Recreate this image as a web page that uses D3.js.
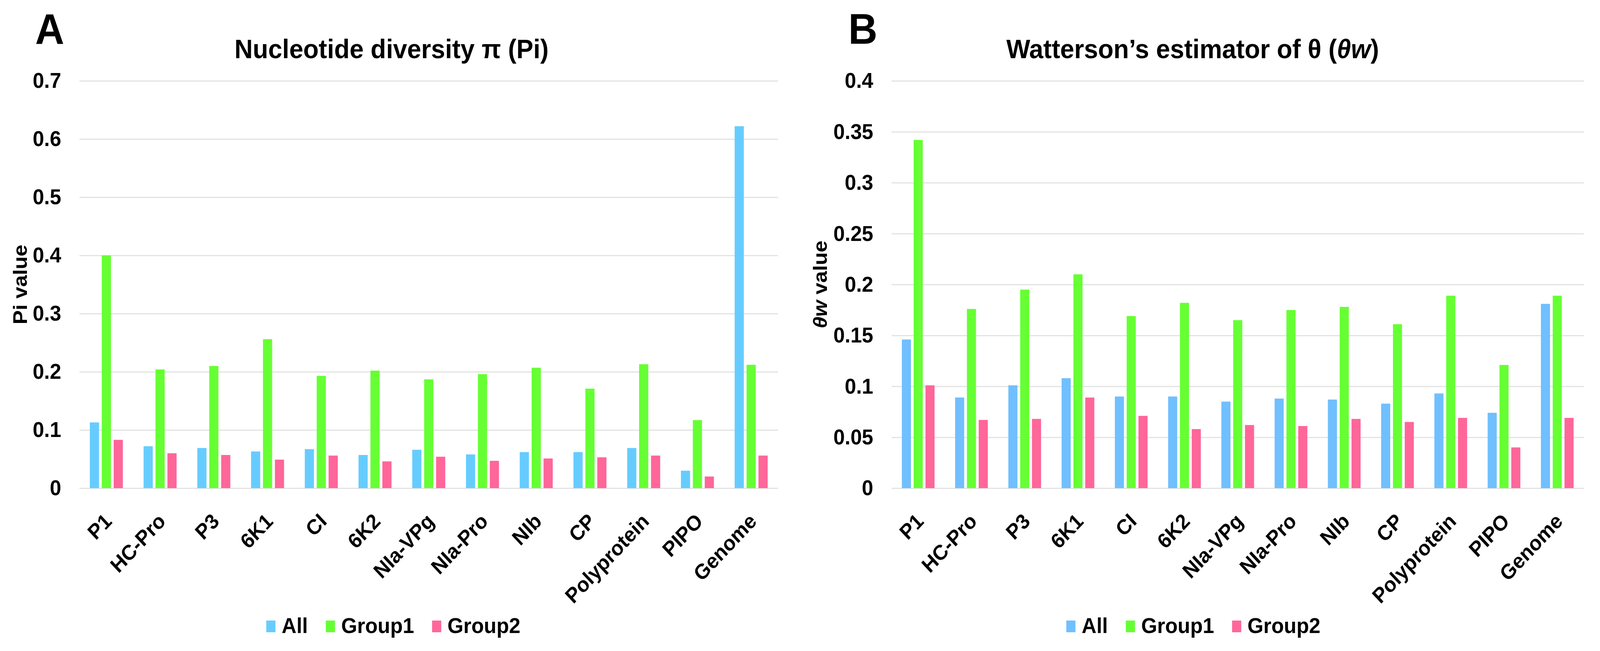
<!DOCTYPE html>
<html>
<head>
<meta charset="utf-8">
<script src="https://cdn.jsdelivr.net/npm/d3@7"></script>
<style>
  html, body { margin: 0; padding: 0; background: #ffffff; overflow: hidden; width: 100%; height: 100%; }
  svg { display: block; font-family: "Liberation Sans", Arial, Helvetica, sans-serif; }
</style>
</head>
<body>
<svg id="chart" viewBox="0 0 4368 1667" preserveAspectRatio="none" style="width:100vw;height:100vh"></svg>
<script>
// ---------------- data ----------------
const categories = ["P1","HC-Pro","P3","6K1","CI","6K2","NIa-VPg","NIa-Pro","NIb","CP","Polyprotein","PIPO","Genome"];
const seriesNames = ["All","Group1","Group2"];

const piAll    = [0.113,0.072,0.069,0.063,0.067,0.057,0.066,0.058,0.062,0.062,0.069,0.030,0.622];
const piGroup1 = [0.400,0.204,0.210,0.256,0.193,0.202,0.187,0.196,0.207,0.171,0.213,0.117,0.212];
const piGroup2 = [0.083,0.060,0.057,0.049,0.056,0.046,0.054,0.047,0.051,0.053,0.056,0.020,0.056];

const twAll    = [0.146,0.089,0.101,0.108,0.090,0.090,0.085,0.088,0.087,0.083,0.093,0.074,0.181];
const twGroup1 = [0.342,0.176,0.195,0.210,0.169,0.182,0.165,0.175,0.178,0.161,0.189,0.121,0.189];
const twGroup2 = [0.101,0.067,0.068,0.089,0.071,0.058,0.062,0.061,0.068,0.065,0.069,0.040,0.069];

const piTicks = [0,0.1,0.2,0.3,0.4,0.5,0.6,0.7];
const piTickLabels = ["0","0.1","0.2","0.3","0.4","0.5","0.6","0.7"];
const twTicks = [0,0.05,0.1,0.15,0.2,0.25,0.3,0.35,0.4];
const twTickLabels = ["0","0.05","0.1","0.15","0.2","0.25","0.3","0.35","0.4"];

const colorsA = ["#66CCFF","#66FF33","#FF6699"];
const colorsB = ["#70BFFF","#66FF33","#FF6699"];

// ---------------- drawing ----------------
const svg = d3.select("#chart");

function drawPanel(cfg) {
  const g = svg.append("g");
  const x0 = d3.scaleBand().domain(categories).range([cfg.left, cfg.right])
               .paddingInner(0.386).paddingOuter(0.193);
  const x1 = d3.scaleBand().domain(seriesNames).range([0, x0.bandwidth()])
               .paddingInner(0.23).paddingOuter(0);
  const y = d3.scaleLinear().domain([0, cfg.max]).range([cfg.bottom, cfg.top]);
  const plotW = cfg.right - cfg.left;

  // y axis with gridlines
  const axis = d3.axisLeft(y).tickValues(cfg.ticks)
      .tickFormat((d, i) => cfg.tickLabels[i])
      .tickSize(-plotW).tickPadding(50);
  const ag = g.append("g").attr("transform", `translate(${cfg.left},0)`).call(axis);
  ag.select(".domain").remove();
  ag.selectAll(".tick line").attr("stroke", "#e3e3e3").attr("stroke-width", 3);
  ag.selectAll(".tick text").attr("fill", "#000").attr("font-size", 56)
    .attr("font-weight", "bold").attr("font-family", "Liberation Sans, Arial, sans-serif");

  // bars
  const data = categories.map((c, i) => ({ cat: c, vals: cfg.series.map((s, k) => ({ name: seriesNames[k], v: s[i], k })) }));
  const groups = g.append("g").selectAll("g").data(data).join("g")
      .attr("transform", d => `translate(${x0(d.cat)},0)`);
  groups.selectAll("rect").data(d => d.vals).join("rect")
      .attr("x", d => x1(d.name))
      .attr("width", x1.bandwidth())
      .attr("y", d => y(d.v))
      .attr("height", d => y(0) - y(d.v))
      .attr("fill", d => cfg.colors[d.k]);

  // category labels
  g.append("g").selectAll("text").data(categories).join("text")
      .attr("transform", d => `translate(${x0(d) + x0.bandwidth() / 2 + 18},${cfg.bottom + 88}) rotate(-45)`)
      .attr("text-anchor", "end")
      .attr("font-size", 54).attr("font-weight", "bold").attr("fill", "#000")
      .text(d => d);

  // title
  const t = g.append("text").attr("x", cfg.titleX).attr("y", 149)
      .attr("text-anchor", "middle").attr("font-size", 69).attr("font-weight", "bold");
  cfg.title.forEach(p => t.append("tspan").attr("font-style", p.italic ? "italic" : "normal").text(p.t));

  // panel letter
  g.append("text").attr("x", cfg.letterX).attr("y", 112)
      .attr("font-size", 110).attr("font-weight", "bold").text(cfg.letter);

  // y axis label
  const yl = g.append("text")
      .attr("transform", `translate(${cfg.ylabX},${(cfg.top + cfg.bottom) / 2}) rotate(-90)`)
      .attr("text-anchor", "middle").attr("font-size", 54).attr("font-weight", "bold");
  cfg.ylab.forEach(p => yl.append("tspan").attr("font-style", p.italic ? "italic" : "normal").text(p.t));

  // legend
  const lg = g.append("g");
  let lx = cfg.legendX;
  seriesNames.forEach((n, k) => {
    lg.append("rect").attr("x", lx).attr("y", 1589).attr("width", 25).attr("height", 30)
      .attr("fill", cfg.colors[k]);
    const tx = lg.append("text").attr("x", lx + 42).attr("y", 1621)
      .attr("font-size", 56).attr("font-weight", "bold").text(n);
    lx = lx + 42 + tx.node().getComputedTextLength() + 49;
  });
}

drawPanel({
  left: 217, right: 2124, top: 207, bottom: 1250, max: 0.7,
  ticks: piTicks, tickLabels: piTickLabels,
  series: [piAll, piGroup1, piGroup2], colors: colorsA,
  title: [{t: "Nucleotide diversity π (Pi)"}], titleX: 1069,
  letter: "A", letterX: 96,
  ylab: [{t: "Pi value"}], ylabX: 74,
  legendX: 727
});

drawPanel({
  left: 2434, right: 4324, top: 207, bottom: 1250, max: 0.4,
  ticks: twTicks, tickLabels: twTickLabels,
  series: [twAll, twGroup1, twGroup2], colors: colorsB,
  title: [{t: "Watterson’s estimator of θ ("}, {t: "θw", italic: true}, {t: ")"}], titleX: 3256,
  letter: "B", letterX: 2316,
  ylab: [{t: "θw", italic: true}, {t: " value"}], ylabX: 2258,
  legendX: 2911
});
</script>
</body>
</html>
